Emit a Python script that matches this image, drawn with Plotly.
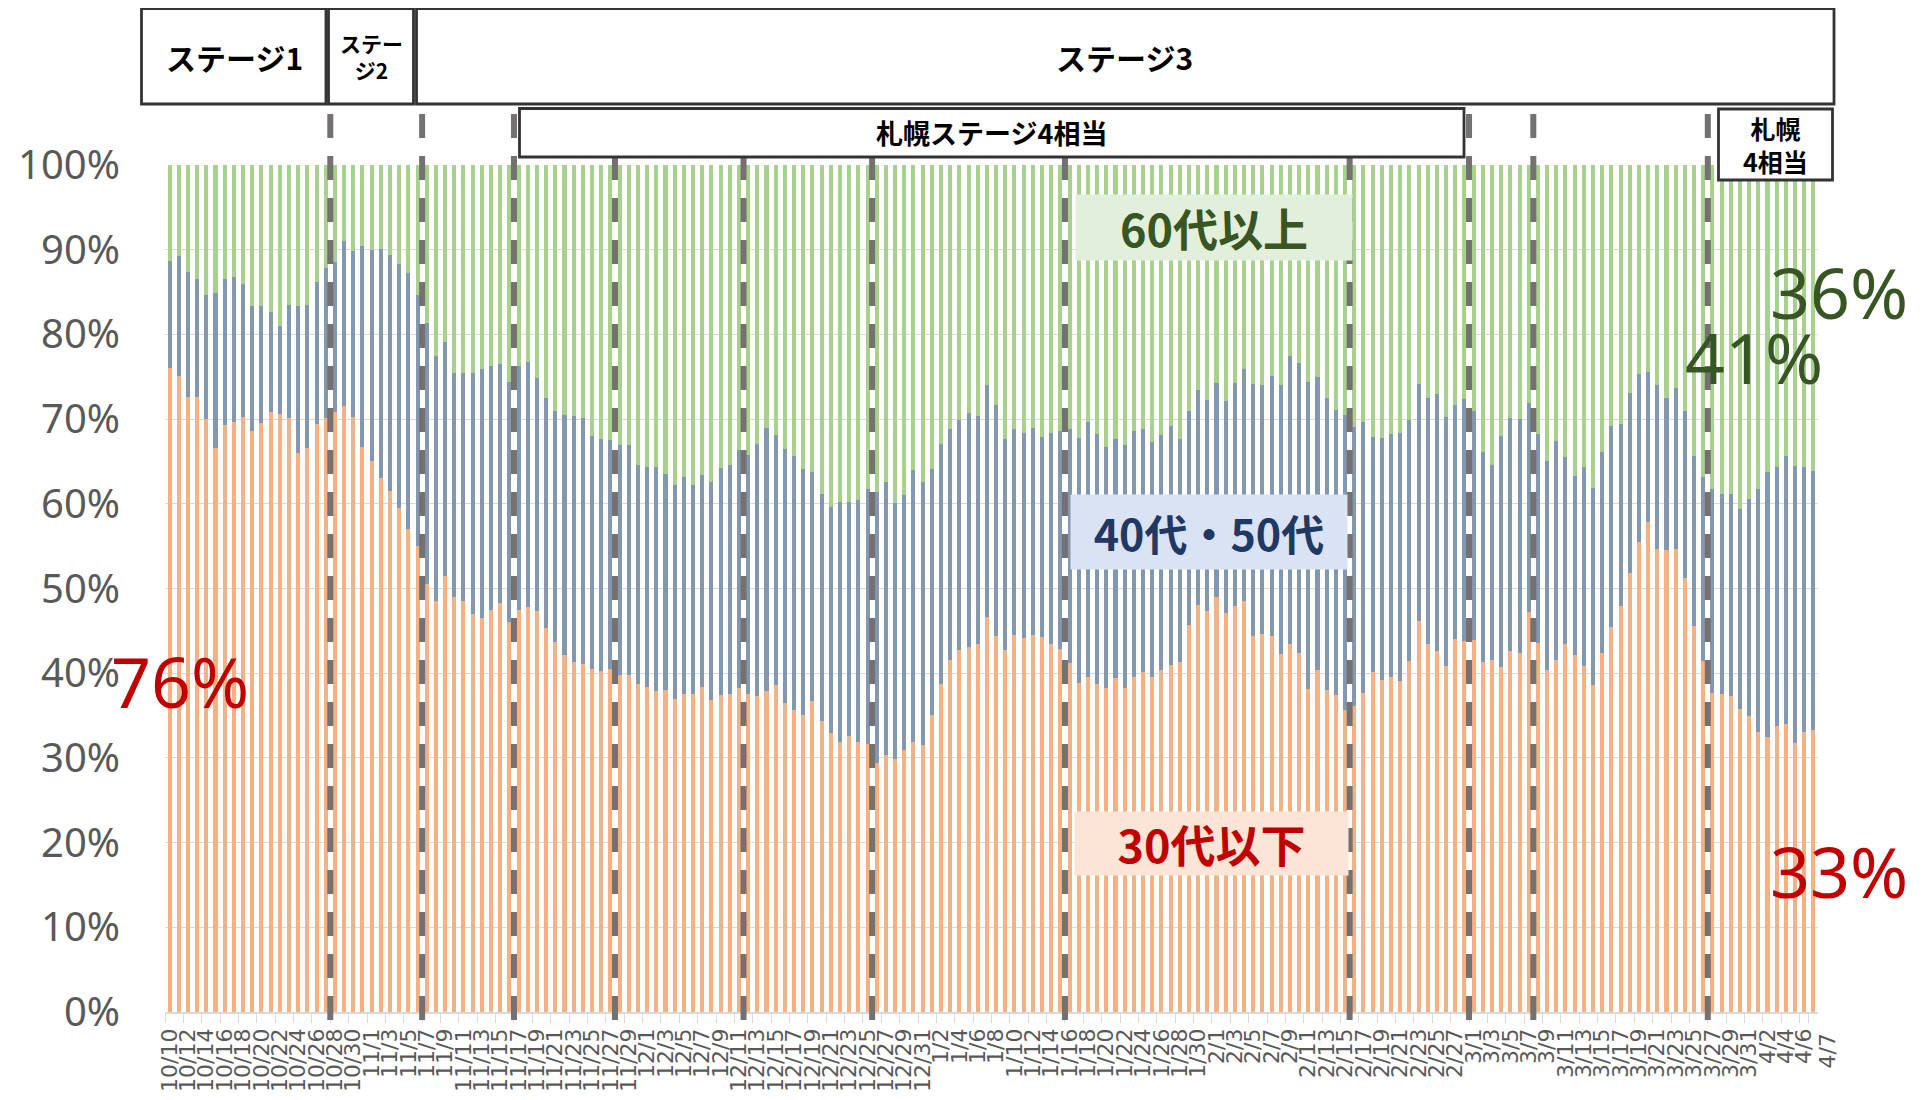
import datetime
import plotly.graph_objects as go

# ---------------- data ----------------
start = datetime.date(2020, 10, 10)
dates = [f"{d.month}/{d.day}" for d in (start + datetime.timedelta(days=k) for k in range(180))]

# share (%) of new cases by age group
under30 = [76.0, 75.1, 72.6, 72.6, 70.0, 66.6, 69.3, 69.7, 70.2, 68.6,
           69.5, 70.8, 70.6, 70.1, 66.0, 66.6, 69.4, 70.1, 70.8, 71.5,
           70.2, 66.7, 65.0, 63.0, 61.5, 59.5, 57.0, 55.0, 50.5, 48.5,
           51.5, 49.0, 48.5, 47.0, 46.5, 47.5, 48.3, 46.0, 47.5, 47.8,
           47.3, 45.3, 43.7, 42.2, 41.3, 41.1, 40.5, 40.3, 40.5, 39.8,
           39.8, 38.7, 38.4, 37.9, 38.0, 37.0, 37.6, 37.6, 38.4, 36.8,
           37.4, 37.6, 38.2, 37.5, 37.3, 37.9, 38.6, 36.5, 35.6, 35.1,
           36.7, 34.4, 32.9, 31.9, 32.6, 31.9, 31.7, 29.4, 30.3, 29.9,
           30.9, 31.9, 31.5, 35.1, 38.7, 41.6, 42.7, 43.1, 43.5, 46.6,
           44.4, 42.7, 44.5, 44.1, 44.5, 44.3, 43.4, 42.9, 41.2, 38.8,
           39.6, 38.7, 38.2, 39.4, 38.2, 39.5, 40.1, 39.6, 40.4, 41.0,
           41.3, 45.7, 48.1, 47.3, 49.0, 47.1, 47.9, 48.5, 44.4, 44.6,
           44.4, 42.3, 43.5, 42.4, 38.1, 40.4, 38.0, 37.4, 35.6, 36.1,
           37.7, 40.2, 39.2, 39.5, 39.1, 41.5, 46.2, 43.5, 42.6, 40.8,
           44.0, 43.8, 43.9, 41.3, 41.6, 40.7, 42.6, 42.4, 47.2, 43.6,
           40.4, 41.6, 43.5, 42.2, 40.9, 38.6, 42.4, 45.5, 47.9, 51.8,
           55.5, 57.8, 54.7, 54.5, 54.7, 51.2, 45.6, 41.5, 37.7, 37.6,
           37.3, 35.8, 35.0, 33.0, 32.5, 33.8, 34.0, 31.8, 33.1, 33.3]

age40_50 = [12.7, 14.2, 14.8, 14.0, 14.6, 18.3, 17.3, 17.1, 15.7, 14.8,
            13.8, 11.8, 10.4, 13.4, 17.4, 16.9, 16.8, 17.7, 17.8, 19.5,
            19.6, 23.7, 25.0, 27.1, 27.9, 28.8, 30.2, 29.6, 30.8, 28.9,
            27.6, 26.4, 26.9, 28.5, 29.4, 28.8, 28.2, 28.4, 28.8, 29.0,
            27.5, 27.2, 27.2, 28.3, 29.1, 29.0, 27.5, 27.4, 27.0, 27.1,
            27.1, 25.9, 26.0, 26.5, 25.5, 25.2, 25.6, 24.6, 25.0, 25.8,
            26.8, 27.0, 28.2, 28.3, 29.8, 31.1, 29.5, 30.0, 30.0, 29.0,
            27.0, 26.7, 26.7, 28.3, 27.6, 28.5, 30.0, 32.0, 32.3, 30.2,
            30.1, 32.1, 31.1, 29.0, 28.4, 27.2, 27.2, 27.6, 26.9, 27.4,
            27.3, 25.0, 24.3, 24.3, 24.4, 23.6, 25.0, 25.7, 27.6, 29.0,
            30.0, 29.5, 28.5, 28.2, 28.7, 29.1, 28.7, 27.7, 27.7, 28.2,
            26.4, 25.3, 25.3, 24.9, 25.3, 25.0, 26.4, 27.4, 29.8, 29.4,
            30.7, 31.7, 34.0, 34.2, 36.3, 34.6, 34.5, 33.7, 34.9, 33.0,
            31.9, 27.7, 28.6, 28.8, 29.3, 28.4, 27.9, 29.0, 30.4, 29.5,
            27.7, 28.6, 27.1, 24.8, 23.0, 27.3, 27.5, 27.6, 24.7, 24.7,
            24.7, 25.8, 22.0, 21.1, 23.5, 23.3, 23.7, 23.7, 21.5, 21.3,
            19.8, 17.8, 19.3, 18.0, 19.0, 19.7, 20.0, 21.7, 24.0, 23.6,
            23.9, 23.6, 25.6, 28.8, 31.3, 30.5, 31.6, 32.7, 31.3, 30.6]

over60 = [11.3, 10.7, 12.6, 13.4, 15.4, 15.1, 13.4, 13.2, 14.1, 16.6,
          16.7, 17.4, 19.0, 16.5, 16.6, 16.5, 13.8, 12.2, 11.4, 9.0,
          10.2, 9.6, 10.0, 9.9, 10.6, 11.7, 12.8, 15.4, 18.7, 22.6,
          20.9, 24.6, 24.6, 24.5, 24.1, 23.7, 23.5, 25.6, 23.7, 23.2,
          25.2, 27.5, 29.1, 29.5, 29.6, 29.9, 32.0, 32.3, 32.5, 33.1,
          33.1, 35.4, 35.6, 35.6, 36.5, 37.8, 36.8, 37.8, 36.6, 37.4,
          35.8, 35.4, 33.6, 34.2, 32.9, 31.0, 31.9, 33.5, 34.4, 35.9,
          36.3, 38.9, 40.4, 39.8, 39.8, 39.6, 38.3, 38.6, 37.4, 39.9,
          39.0, 36.0, 37.4, 35.9, 32.9, 31.2, 30.1, 29.3, 29.6, 26.0,
          28.3, 32.3, 31.2, 31.6, 31.1, 32.1, 31.6, 31.4, 31.2, 32.2,
          30.4, 31.8, 33.3, 32.4, 33.1, 31.4, 31.2, 32.7, 31.9, 30.8,
          32.3, 29.0, 26.6, 27.8, 25.7, 27.9, 25.7, 24.1, 25.8, 26.0,
          24.9, 26.0, 22.5, 23.4, 25.6, 25.0, 27.5, 28.9, 29.5, 30.9,
          30.4, 32.1, 32.2, 31.7, 31.6, 30.1, 25.9, 27.5, 27.0, 29.7,
          28.3, 27.6, 29.0, 33.9, 35.4, 32.0, 29.9, 30.0, 28.1, 31.7,
          34.9, 32.6, 34.5, 36.7, 35.6, 38.1, 33.9, 30.8, 30.6, 26.9,
          24.7, 24.4, 26.0, 27.5, 26.3, 29.1, 34.4, 36.8, 38.3, 38.8,
          38.8, 40.6, 39.4, 38.2, 36.2, 35.7, 34.4, 35.5, 35.6, 36.1]

tick_labels = dates[::2]
last_label = dates[-1]
y_ticks = [0, 10, 20, 30, 40, 50, 60, 70, 80, 90, 100]
y_tick_text = ["0%", "10%", "20%", "30%", "40%", "50%", "60%", "70%", "80%", "90%", "100%"]

# dates where the stage changed (dashed separators drawn before these days)
change_dates = ["10/28", "11/7", "11/17", "11/28", "12/12", "12/26",
                "1/16", "2/16", "3/1", "3/8", "3/27"]

series_names = ["30代以下", "40代・50代", "60代以上"]
colors = ["#F4B183", "#8497B0", "#A9D18E"]

# ---------------- layout helpers ----------------
OFF = 8                     # body margin of the html page
W, H = 1922, 1092
L, T = 165 - OFF, 165 - OFF
R = W - (1818 - OFF)
B = H - (1012 - OFF)
PW, PH = W - L - R, H - T - B


def px(X):
    """page pixel x -> paper x"""
    return (X - OFF - L) / PW


def py(Y):
    """page pixel y -> paper y"""
    return (H - B - (Y - OFF)) / PH


fig = go.Figure()
for name, vals, col in zip(series_names, [under30, age40_50, over60], colors):
    fig.add_trace(go.Bar(x=dates, y=vals, name=name, marker=dict(color=col, line=dict(width=0))))

shapes = []
# dashed stage separators
for d in change_dates:
    xi = dates.index(d) - 0.5
    shapes.append(dict(type="line", xref="x", yref="paper", x0=xi, x1=xi,
                       y0=py(114), y1=py(1022), layer="above",
                       line=dict(color="#767171", width=6, dash="24px,18px")))

# stage boxes (pixel geometry)
boxes = [
    (141.5, 326, 8.5, 104),
    (328.5, 413.5, 8.5, 104),
    (416.5, 1834, 8.5, 104),
    (519.5, 1464, 108.5, 157),
    (1718.5, 1832.5, 109, 180),
]
for x0, x1, y0, y1 in boxes:
    shapes.append(dict(type="rect", xref="paper", yref="paper",
                       x0=px(x0), x1=px(x1), y0=py(y1), y1=py(y0), layer="above",
                       fillcolor="white", line=dict(color="#333333", width=2.8)))

jp = "Noto Sans CJK JP"
annotations = []


def add_text(text, X, Y, size, color="black", family=jp, **kw):
    d = dict(text=text, x=px(X), y=py(Y), xref="paper", yref="paper",
             showarrow=False, xanchor="center", yanchor="middle",
             font=dict(family=family, size=size, color=color))
    d.update(kw)
    annotations.append(d)


add_text("<b>ステージ1</b>", 234, 57, 30)
add_text("<b>ステー<br>ジ2</b>", 371, 57, 21)
add_text("<b>ステージ3</b>", 1124, 57, 30)
add_text("<b>札幌ステージ4相当</b>", 991, 133, 27)
add_text("<b>札幌<br>4相当</b>", 1775, 145, 25)

# in-chart series labels with coloured boxes
add_text("<b>60代以上</b>", 1214, 228, 45, color="#375623",
         bgcolor="#E2EFDA", width=276, height=65, borderpad=0)
add_text("<b>40代・50代</b>", 1209, 532, 43, color="#1F3864",
         bgcolor="#DAE3F3", width=276, height=74, borderpad=0)
add_text("<b>30代以下</b>", 1211, 843, 45, color="#C00000",
         bgcolor="#FBE5D6", width=273, height=63, borderpad=0)

# big percentage call-outs
add_text("76%", 180, 681, 70, color="#C00000", family="Noto Sans")
add_text("41%", 1754, 357, 70, color="#375623", family="Noto Sans")
add_text("36%", 1839, 292, 70, color="#375623", family="Noto Sans")
add_text("33%", 1839, 871, 70, color="#C00000", family="Noto Sans")

# final date label, drawn just past the axis end as in the original
add_text(last_label, 1827, 1031, 22, color="#595959", family="DejaVu Sans",
         textangle=-90, yanchor="top")

fig.update_layout(
    width=W, height=H,
    margin=dict(l=L, r=R, t=T, b=B, autoexpand=False),
    paper_bgcolor="white", plot_bgcolor="white",
    barmode="stack", bargap=0.56,
    showlegend=False,
    shapes=shapes, annotations=annotations,
    xaxis=dict(type="category", range=[-0.5, len(dates) - 0.5], automargin=False,
               tickmode="array", tickvals=tick_labels, ticktext=tick_labels,
               tickson="boundaries", ticks="outside", ticklen=9,
               tickcolor="#D9D9D9", tickwidth=1.3, tickangle=-90,
               ticklabelstandoff=6,
               showgrid=False, showline=True, linecolor="#D9D9D9", linewidth=1.5,
               tickfont=dict(family="DejaVu Sans", size=22, color="#595959")),
    yaxis=dict(range=[0, 100], tickmode="array", tickvals=y_ticks, ticktext=y_tick_text,
               automargin=False,
               showgrid=True, gridcolor="#D9D9D9", gridwidth=1.3, zeroline=False,
               showline=False, ticks="", ticklabelstandoff=44,
               tickfont=dict(family="Noto Sans", size=40, color="#595959")),
)

fig.write_html("out.html")
